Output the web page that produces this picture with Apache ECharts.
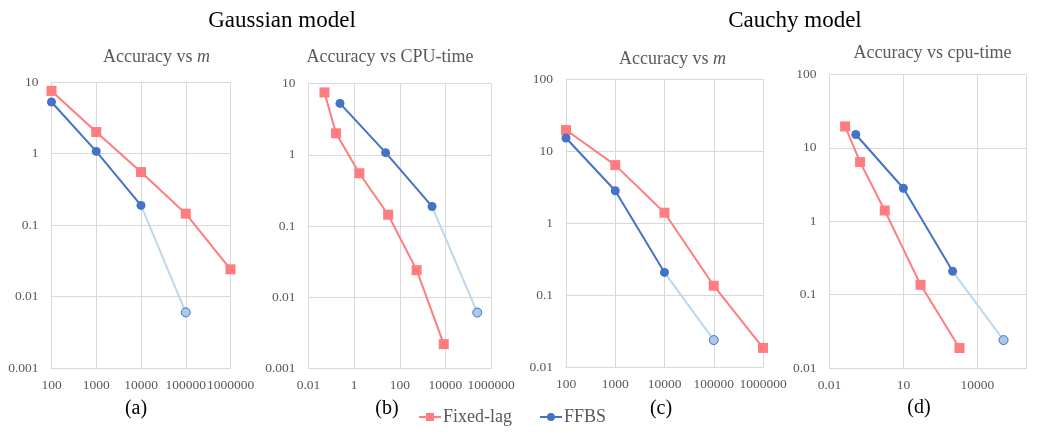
<!DOCTYPE html>
<html>
<head>
<meta charset="utf-8">
<script src="https://cdn.jsdelivr.net/npm/echarts@6/dist/echarts.min.js"></script>
<style>html,body{margin:0;padding:0;background:#fff}#c{width:1046px;height:434px}</style>
</head>
<body>
<div id="c"></div>
<script>
// ---- data ----
// (a) Gaussian: accuracy vs m
var mA = [100, 1000, 10000, 100000, 1000000];
var fixedA = [7.5, 2.0, 0.55, 0.144, 0.024];
var ffbsA = [5.25, 1.07, 0.188];
var ffbsExtA = [0.188, 0.006];
// (b) Gaussian: accuracy vs CPU-time
var cpuFixedB = [0.05, 0.16, 1.7, 31, 550, 8500];
var fixedB = [7.5, 2.0, 0.55, 0.144, 0.024, 0.0022];
var cpuFfbsB = [0.24, 24, 2600, 250000];
var ffbsB = [5.25, 1.07, 0.188, 0.0061];
// (c) Cauchy: accuracy vs m
var mC = [100, 1000, 10000, 100000, 1000000];
var fixedC = [19.6, 6.4, 1.4, 0.136, 0.0187];
var ffbsC = [15.2, 2.82, 0.208, 0.024];
// (d) Cauchy: accuracy vs cpu-time
var cpuFixedD = [0.043, 0.175, 1.75, 50, 1900];
var fixedD = [19.6, 6.4, 1.4, 0.136, 0.0187];
var cpuFfbsD = [0.117, 10, 1000, 117000];
var ffbsD = [15.2, 2.82, 0.208, 0.024];

var mainTitles = ['Gaussian model', 'Cauchy model'];
var subTitles = ['Accuracy vs {i|m}', 'Accuracy vs CPU-time', 'Accuracy vs {i|m}', 'Accuracy vs cpu-time'];
var captions = ['(a)', '(b)', '(c)', '(d)'];

// ---- styling ----
var FONT = '"Liberation Serif", "Times New Roman", serif';
var GRAY = '#595959';
var RED = '#FF7C80';
var BLUE = '#4472C4';
var LIGHT = '#BDD7EE';
var LIGHTFILL = '#A9C8EC';

function zip(xs, ys) { return ys.map(function (y, i) { return [xs[i], y]; }); }
function fmt(v) { return String(parseFloat(Number(v).toPrecision(10))); }

var grids = [
  {left: 51.5, top: 82, width: 179, height: 286},
  {left: 308.5, top: 83.5, width: 182.5, height: 285},
  {left: 566, top: 79, width: 197, height: 288.5},
  {left: 829.5, top: 74.5, width: 197, height: 293.5}
];

var xCfg = [
  {min: 100, max: 1000000, interval: 1},
  {min: 0.01, max: 1000000, interval: 2},
  {min: 100, max: 1000000, interval: 1},
  {min: 0.01, max: 1000000, interval: 3, hideMax: true}
];
var yCfg = [
  {min: 0.001, max: 10},
  {min: 0.001, max: 10},
  {min: 0.01, max: 100},
  {min: 0.01, max: 100}
];

var xAxes = xCfg.map(function (c, i) {
  return {
    type: 'log', logBase: 10, gridIndex: i, min: c.min, max: c.max, interval: c.interval,
    axisLine: {show: true, lineStyle: {color: '#D9D9D9', width: 1}},
    axisTick: {show: false},
    splitLine: {show: true, lineStyle: {color: '#D9D9D9', width: 1}},
    axisLabel: {
      color: GRAY, fontFamily: FONT, fontSize: 13.5, margin: 10,
      showMaxLabel: !c.hideMax, hideOverlap: false,
      formatter: fmt
    }
  };
});
var yAxes = yCfg.map(function (c, i) {
  return {
    type: 'log', logBase: 10, gridIndex: i, min: c.min, max: c.max, interval: 1,
    axisLine: {show: true, lineStyle: {color: '#D9D9D9', width: 1}},
    axisTick: {show: false},
    splitLine: {show: true, lineStyle: {color: '#D9D9D9', width: 1}},
    axisLabel: {color: GRAY, fontFamily: FONT, fontSize: 13.5, margin: 13, formatter: fmt}
  };
});

function fixedSeries(i, data) {
  return {
    name: 'Fixed-lag', type: 'line', xAxisIndex: i, yAxisIndex: i, data: data,
    symbol: 'rect', symbolSize: 10, itemStyle: {color: RED}, lineStyle: {color: RED, width: 2},
    z: 3, animation: false
  };
}
function ffbsSeries(i, data) {
  return {
    name: 'FFBS', type: 'line', xAxisIndex: i, yAxisIndex: i, data: data,
    symbol: 'circle', symbolSize: 9, itemStyle: {color: BLUE}, lineStyle: {color: BLUE, width: 2},
    z: 5, animation: false
  };
}
function extSeries(i, data) {
  var d = data.map(function (p, k) {
    return k === 0 ? {value: p, symbol: 'none'} : {value: p};
  });
  return {
    name: 'FFBS-ext', type: 'line', xAxisIndex: i, yAxisIndex: i, data: d,
    symbol: 'circle', symbolSize: 9,
    itemStyle: {color: LIGHTFILL, borderColor: BLUE, borderWidth: 1},
    lineStyle: {color: LIGHT, width: 2}, z: 4, animation: false
  };
}

var series = [
  fixedSeries(0, zip(mA, fixedA)),
  extSeries(0, [[mA[2], ffbsExtA[0]], [mA[3], ffbsExtA[1]]]),
  ffbsSeries(0, zip(mA.slice(0, 3), ffbsA)),

  fixedSeries(1, zip(cpuFixedB, fixedB)),
  extSeries(1, [[cpuFfbsB[2], ffbsB[2]], [cpuFfbsB[3], ffbsB[3]]]),
  ffbsSeries(1, zip(cpuFfbsB.slice(0, 3), ffbsB.slice(0, 3))),

  fixedSeries(2, zip(mC, fixedC)),
  extSeries(2, [[mC[2], ffbsC[2]], [mC[3], ffbsC[3]]]),
  ffbsSeries(2, zip(mC.slice(0, 3), ffbsC.slice(0, 3))),

  fixedSeries(3, zip(cpuFixedD, fixedD)),
  extSeries(3, [[cpuFfbsD[2], ffbsD[2]], [cpuFfbsD[3], ffbsD[3]]]),
  ffbsSeries(3, zip(cpuFfbsD.slice(0, 3), ffbsD.slice(0, 3)))
];

function txt(x, y, text, size, color, rich) {
  var st = {text: text, x: 0, y: 0, fontFamily: FONT, fontSize: size, fill: color,
    align: 'center', verticalAlign: 'middle'};
  if (rich) st.rich = {i: {fontFamily: FONT, fontSize: size, fill: color, fontStyle: 'italic'}};
  return {type: 'text', x: x, y: y, style: st, silent: true};
}

var subPos = [[156.5, 57], [390, 57], [672.5, 59.5], [932.5, 53.5]];
var capPos = [[136, 409], [387, 409], [661, 409], [919, 408]];
var graphics = [
  txt(282, 21, mainTitles[0], 23, '#000'),
  txt(795, 21, mainTitles[1], 23, '#000')
];
subTitles.forEach(function (s, i) {
  graphics.push(txt(subPos[i][0], subPos[i][1], s, 18, GRAY, s.indexOf('{i|') >= 0));
});
captions.forEach(function (s, i) {
  graphics.push(txt(capPos[i][0], capPos[i][1], s, 20, '#000'));
});

var chart = echarts.init(document.getElementById('c'), null, {renderer: 'canvas'});
chart.setOption({
  animation: false,
  backgroundColor: '#fff',
  grid: grids,
  xAxis: xAxes,
  yAxis: yAxes,
  series: series,
  legend: {
    data: ['Fixed-lag', 'FFBS'],
    left: 413, top: 403, itemWidth: 22, itemHeight: 10, itemGap: 27,
    textStyle: {color: GRAY, fontFamily: FONT, fontSize: 18, padding: [0, 0, 0, -3]},
    selectedMode: false
  },
  graphic: graphics
});
</script>
</body>
</html>
